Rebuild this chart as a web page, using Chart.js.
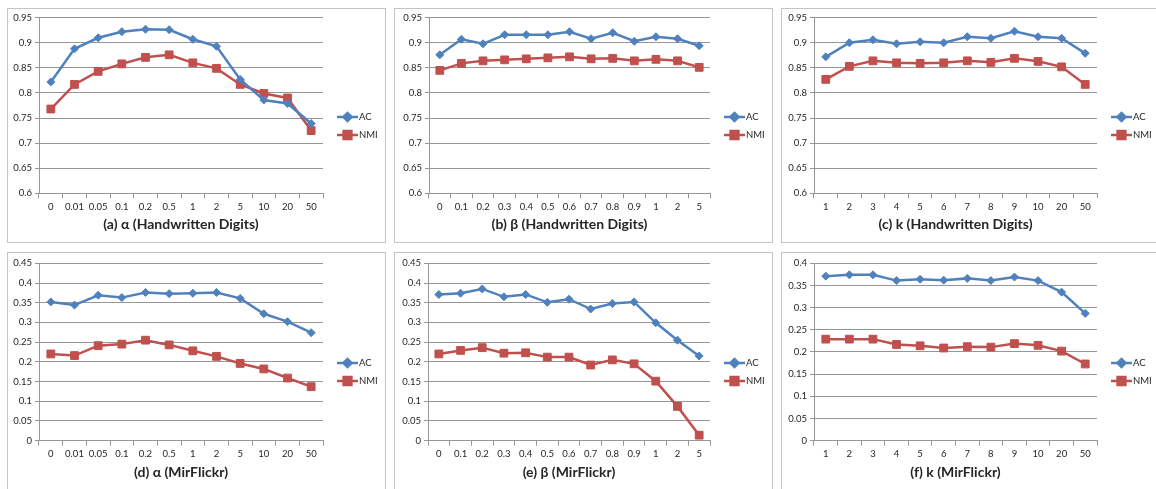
<!DOCTYPE html>
<html>
<head>
<meta charset="utf-8">
<script src="https://cdn.jsdelivr.net/npm/chart.js@4.4.0/dist/chart.umd.min.js"></script>
<style>
  body { margin: 0; background: #fff; width: 1156px; height: 489px; overflow: hidden; position: relative; }
  .box { position: absolute; border: 1px solid #c4c4c4; background: #fff; }
  .box canvas { position: absolute; left: 0; top: 0; }
</style>
</head>
<body>
<script>
// categories
const alphaLabels = ['0', '0.01', '0.05', '0.1', '0.2', '0.5', '1', '2', '5', '10', '20', '50'];
const betaLabels = ['0', '0.1', '0.2', '0.3', '0.4', '0.5', '0.6', '0.7', '0.8', '0.9', '1', '2', '5'];
const kLabels = ['1', '2', '3', '4', '5', '6', '7', '8', '9', '10', '20', '50'];

// Handwritten Digits
const acDigitsAlpha = [0.822, 0.888, 0.910, 0.922, 0.927, 0.926, 0.907, 0.893, 0.827, 0.786, 0.779, 0.739];
const nmiDigitsAlpha = [0.768, 0.817, 0.843, 0.858, 0.871, 0.876, 0.860, 0.849, 0.817, 0.799, 0.790, 0.725];
const acDigitsBeta = [0.876, 0.907, 0.898, 0.916, 0.916, 0.916, 0.922, 0.908, 0.920, 0.903, 0.912, 0.908, 0.894];
const nmiDigitsBeta = [0.845, 0.859, 0.864, 0.866, 0.868, 0.870, 0.872, 0.868, 0.869, 0.864, 0.867, 0.864, 0.851];
const acDigitsK = [0.872, 0.900, 0.906, 0.898, 0.902, 0.900, 0.912, 0.909, 0.923, 0.912, 0.909, 0.879];
const nmiDigitsK = [0.827, 0.853, 0.864, 0.860, 0.859, 0.860, 0.864, 0.861, 0.869, 0.863, 0.852, 0.817];

// MirFlickr
const acFlickrAlpha = [0.352, 0.344, 0.369, 0.363, 0.376, 0.373, 0.374, 0.376, 0.361, 0.322, 0.302, 0.274];
const nmiFlickrAlpha = [0.220, 0.216, 0.241, 0.245, 0.255, 0.243, 0.228, 0.214, 0.196, 0.182, 0.159, 0.137];
const acFlickrBeta = [0.371, 0.374, 0.385, 0.365, 0.371, 0.351, 0.359, 0.334, 0.348, 0.352, 0.299, 0.255, 0.215];
const nmiFlickrBeta = [0.220, 0.229, 0.236, 0.222, 0.223, 0.212, 0.212, 0.192, 0.205, 0.195, 0.151, 0.087, 0.014];
const acFlickrK = [0.371, 0.374, 0.374, 0.361, 0.364, 0.362, 0.366, 0.361, 0.369, 0.361, 0.335, 0.287];
const nmiFlickrK = [0.229, 0.229, 0.229, 0.217, 0.214, 0.209, 0.212, 0.211, 0.219, 0.215, 0.202, 0.173];

// y ranges
const digitsRange = [0.6, 0.95];
const flickrAlphaBetaRange = [0, 0.45];
const flickrKRange = [0, 0.4];

const blue = '#4f81bd';
const red = '#c0504d';
const textColor = '#262626';
const gridColor = '#969696';

const panels = [
  { left: 7, top: 8, w: 379, h: 235, axisX: 31, plotTop: 8.3, plotBottom: 184.3, labels: alphaLabels, ac: acDigitsAlpha, nmi: nmiDigitsAlpha, range: digitsRange, title: '(a) α (Handwritten Digits)' },
  { left: 394, top: 8, w: 379, h: 235, axisX: 34, plotTop: 8.3, plotBottom: 184.3, labels: betaLabels, ac: acDigitsBeta, nmi: nmiDigitsBeta, range: digitsRange, title: '(b) β (Handwritten Digits)' },
  { left: 781, top: 8, w: 379, h: 235, axisX: 32, plotTop: 8.3, plotBottom: 184.3, labels: kLabels, ac: acDigitsK, nmi: nmiDigitsK, range: digitsRange, title: '(c) k (Handwritten Digits)' },
  { left: 7, top: 252, w: 379, h: 239, axisX: 31, plotTop: 10.3, plotBottom: 187.7, labels: alphaLabels, ac: acFlickrAlpha, nmi: nmiFlickrAlpha, range: flickrAlphaBetaRange, title: '(d) α (MirFlickr)' },
  { left: 394, top: 252, w: 379, h: 239, axisX: 33, plotTop: 10.3, plotBottom: 187.7, labels: betaLabels, ac: acFlickrBeta, nmi: nmiFlickrBeta, range: flickrAlphaBetaRange, title: '(e) β (MirFlickr)' },
  { left: 781, top: 252, w: 379, h: 239, axisX: 32, plotTop: 10.3, plotBottom: 187.7, labels: kLabels, ac: acFlickrK, nmi: nmiFlickrK, range: flickrKRange, title: '(f) k (MirFlickr)' }
];

// excel-like legend: short line with marker, right of the plot
const sideLegend = {
  id: 'sideLegend',
  afterDraw(chart) {
    const ctx = chart.ctx;
    const x0 = chart.chartArea.right + 14;
    const midY = chart.height / 2;
    ctx.save();
    chart.data.datasets.forEach((ds, i) => {
      const y = Math.round(midY + (i - 0.5) * 18);
      ctx.strokeStyle = ds.borderColor;
      ctx.lineWidth = 2.5;
      ctx.beginPath();
      ctx.moveTo(x0, y);
      ctx.lineTo(x0 + 21, y);
      ctx.stroke();
      ctx.fillStyle = ds.backgroundColor;
      Chart.helpers.drawPoint(ctx, { pointStyle: ds.pointStyle, radius: ds.pointRadius, borderWidth: 1, rotation: 0 }, x0 + 10.5, y);
      ctx.fillStyle = textColor;
      ctx.font = '9.5px Lato';
      ctx.textBaseline = 'middle';
      ctx.textAlign = 'left';
      ctx.fillText(ds.label, x0 + 22, y);
    });
    ctx.restore();
  }
};

panels.forEach(p => {
  const box = document.createElement('div');
  box.className = 'box';
  box.style.left = p.left + 'px';
  box.style.top = p.top + 'px';
  box.style.width = (p.w - 2) + 'px';
  box.style.height = (p.h - 2) + 'px';
  const cv = document.createElement('canvas');
  cv.width = p.w - 2;
  cv.height = p.h - 2;
  box.appendChild(cv);
  document.body.appendChild(box);

  const W = p.w - 2, H = p.h - 2;
  new Chart(cv.getContext('2d'), {
    type: 'line',
    data: {
      labels: p.labels,
      datasets: [
        { label: 'AC', data: p.ac, borderColor: blue, backgroundColor: blue, borderWidth: 2.5,
          pointStyle: 'rectRot', pointRadius: 4, pointBorderWidth: 1, tension: 0 },
        { label: 'NMI', data: p.nmi, borderColor: red, backgroundColor: red, borderWidth: 2.5,
          pointStyle: 'rect', pointRadius: 5.5, pointBorderWidth: 1, tension: 0 }
      ]
    },
    options: {
      responsive: false,
      animation: false,
      devicePixelRatio: 1,
      layout: { padding: { top: p.plotTop, right: W - 315, left: 0, bottom: 0 } },
      plugins: { legend: { display: false }, tooltip: { enabled: false } },
      scales: {
        x: {
          offset: true,
          afterFit: s => { s.height = H - p.plotBottom; },
          grid: { offset: true, drawOnChartArea: false, drawTicks: true, tickLength: 5, color: gridColor },
          border: { color: gridColor },
          ticks: { color: textColor, font: { family: 'Lato', size: 9.5 }, padding: 3, maxRotation: 0, autoSkip: false },
          title: { display: true, text: p.title, color: textColor, font: { family: 'Lato', size: 14, weight: 'bold' }, padding: { top: 0, bottom: 9.5 } }
        },
        y: {
          min: p.range[0],
          max: p.range[1],
          afterFit: s => { s.width = p.axisX; },
          grid: { color: gridColor, tickLength: 4 },
          border: { color: gridColor },
          ticks: { stepSize: 0.05, color: textColor, font: { family: 'Lato', size: 9.5 }, padding: 3,
            callback: v => String(+v.toFixed(2)) }
        }
      }
    },
    plugins: [sideLegend]
  });
});
</script>
</body>
</html>
